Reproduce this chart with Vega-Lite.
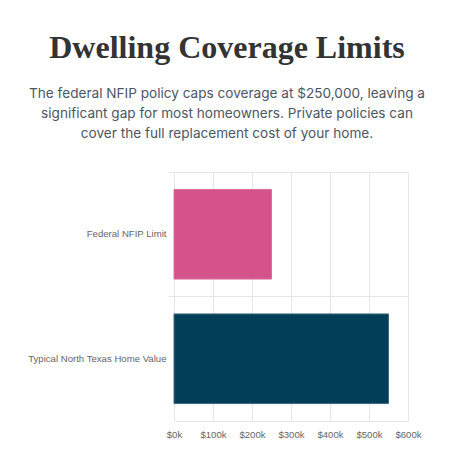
{
  "$schema": "https://vega.github.io/schema/vega-lite/v6.json",
  "autosize": "none",
  "width": 234,
  "height": 249,
  "padding": {"left": 174, "top": 172, "right": 47, "bottom": 37},
  "background": "white",
  "title": {
    "text": "Dwelling Coverage Limits",
    "subtitle": ["The federal NFIP policy caps coverage at $250,000, leaving a", "significant gap for most homeowners. Private policies can", "cover the full replacement cost of your home."],
    "anchor": "middle",
    "dx": -64,
    "offset": 30,
    "font": "Liberation Serif",
    "fontSize": 32,
    "fontWeight": "bold",
    "color": "#333333",
    "subtitleFont": "Inter",
    "subtitleFontSize": 13.6,
    "subtitleColor": "#4b5563",
    "subtitleLineHeight": 20,
    "subtitlePadding": 22
  },
  "data": {
    "values": [
      {"category": "Federal NFIP Limit", "amount": 250000},
      {"category": "Typical North Texas Home Value", "amount": 550000}
    ]
  },
  "mark": {"type": "bar", "strokeWidth": 1, "height": {"band": 0.72}},
  "encoding": {
    "y": {
      "field": "category",
      "type": "nominal",
      "sort": null,
      "title": null,
      "scale": {"paddingInner": 0, "paddingOuter": 0},
      "axis": {
        "bandPosition": 0,
        "grid": true,
        "gridColor": "#e6e6e6",
        "domain": false,
        "ticks": true,
        "tickColor": "#e6e6e6",
        "tickSize": 6,
        "labelFont": "Liberation Sans",
        "labelFontSize": 9.6,
        "labelColor": "#666666",
        "labelPadding": 2,
        "labelBaseline": "middle",
        "labelAlign": "right"
      }
    },
    "x": {
      "field": "amount",
      "type": "quantitative",
      "title": null,
      "scale": {"domain": [0, 600000], "nice": false},
      "axis": {
        "values": [0, 100000, 200000, 300000, 400000, 500000, 600000],
        "labelExpr": "'$' + format(datum.value / 1000, 'd') + 'k'",
        "labelOverlap": false,
        "labelFlush": false,
        "grid": true,
        "gridColor": "#e6e6e6",
        "domain": true,
        "domainColor": "#e6e6e6",
        "ticks": false,
        "labelFont": "Liberation Sans",
        "labelFontSize": 9.6,
        "labelColor": "#666666",
        "labelPadding": 8
      }
    },
    "color": {
      "field": "category",
      "type": "nominal",
      "legend": null,
      "scale": {"domain": ["Federal NFIP Limit", "Typical North Texas Home Value"], "range": ["#d4538a", "#023e58"]}
    },
    "stroke": {
      "field": "category",
      "type": "nominal",
      "legend": null,
      "scale": {"domain": ["Federal NFIP Limit", "Typical North Texas Home Value"], "range": ["#dc6e9c", "#3d6b80"]}
    }
  },
  "config": {"view": {"stroke": null}}
}
